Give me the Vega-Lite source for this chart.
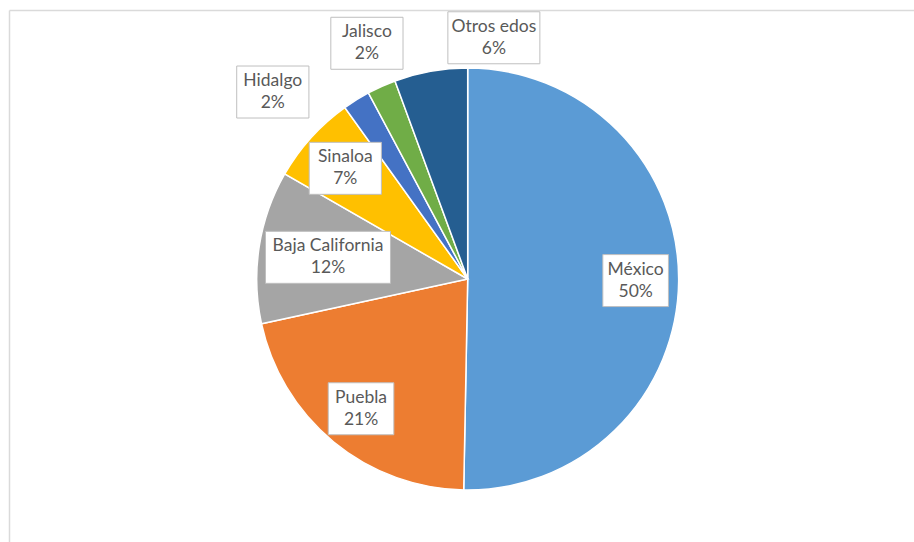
{
  "$schema": "https://vega.github.io/schema/vega-lite/v6.json",
  "width": 905,
  "height": 532,
  "autosize": {"type": "none"},
  "padding": {"left": 9, "top": 10, "right": 0, "bottom": 0},
  "background": "white",
  "config": {
    "view": {"stroke": null},
    "axis": {"labels": false, "ticks": false, "grid": false, "title": null, "domainColor": "#dadada", "domainWidth": 1.5}
  },
  "data": {
    "values": [
      {"estado": "México", "value": 50.3},
      {"estado": "Puebla", "value": 21.3},
      {"estado": "Baja California", "value": 11.7},
      {"estado": "Sinaloa", "value": 6.8},
      {"estado": "Hidalgo", "value": 2.1},
      {"estado": "Jalisco", "value": 2.2},
      {"estado": "Otros edos", "value": 5.6}
    ]
  },
  "transform": [
    {"window": [{"op": "row_number", "as": "idx"}]},
    {"window": [{"op": "sum", "field": "value", "as": "cum"}], "sort": [{"field": "idx"}], "frame": [null, 0]},
    {"joinaggregate": [{"op": "sum", "field": "value", "as": "total"}]},
    {"calculate": "datum.value < 6.5 ? 1 : 0", "as": "fuera"},
    {"window": [{"op": "sum", "field": "fuera", "as": "rangoFuera"}], "sort": [{"field": "idx"}], "frame": [null, 0]},
    {"calculate": "2*PI*(datum.cum - datum.value/2)/datum.total", "as": "mid"},
    {"calculate": "datum.fuera == 1 ? datum.mid + (datum.rangoFuera - 2)*0.267 + 0.017 : datum.mid", "as": "ang"},
    {"calculate": "datum.fuera == 1 ? 1.345 - 0.065*datum.rangoFuera : 0.88 - 0.014*length(datum.estado)", "as": "rad"},
    {"calculate": "datum.rad*sin(datum.ang)", "as": "lx"},
    {"calculate": "datum.rad*cos(datum.ang)", "as": "ly"},
    {"calculate": "(6.6*length(datum.estado)+26)/211", "as": "bw"},
    {"calculate": "datum.lx - datum.bw/2", "as": "bx1"},
    {"calculate": "datum.lx + datum.bw/2", "as": "bx2"},
    {"calculate": "datum.ly - 26/211", "as": "by1"},
    {"calculate": "datum.ly + 26/211", "as": "by2"},
    {"calculate": "datum.estado + '\\n' + format(datum.value/datum.total, '.0%')", "as": "etiqueta"}
  ],
  "layer": [
    {
      "mark": {"type": "arc", "outerRadius": 211, "stroke": "white", "strokeWidth": 1.5},
      "encoding": {
        "theta": {"field": "value", "type": "quantitative", "stack": true},
        "order": {"field": "idx", "type": "quantitative"},
        "color": {
          "field": "estado",
          "type": "nominal",
          "legend": null,
          "scale": {
            "domain": ["México", "Puebla", "Baja California", "Sinaloa", "Hidalgo", "Jalisco", "Otros edos"],
            "range": ["#5B9BD5", "#ED7D31", "#A5A5A5", "#FFC000", "#4472C4", "#70AD47", "#255E91"]
          }
        },
        "x": {"datum": 0, "type": "quantitative", "scale": {"domain": [-2.1739, 2.1152], "nice": false, "zero": false}, "axis": {"orient": "top", "title": null}},
        "y": {"datum": 0, "type": "quantitative", "scale": {"domain": [-1.2464, 1.2749], "nice": false, "zero": false}, "axis": {"orient": "left", "title": null}}
      }
    },
    {
      "mark": {"type": "rect", "fill": "white", "stroke": "#bfbfbf", "strokeWidth": 1},
      "encoding": {
        "x": {"field": "bx1", "type": "quantitative", "axis": {"orient": "top", "title": null}},
        "x2": {"field": "bx2"},
        "y": {"field": "by1", "type": "quantitative", "axis": {"orient": "left", "title": null}},
        "y2": {"field": "by2"}
      }
    },
    {
      "mark": {"type": "text", "font": "Lato", "fontSize": 17.5, "color": "#595959", "lineBreak": "\n", "lineHeight": 22, "align": "center", "baseline": "middle", "dy": -11},
      "encoding": {
        "x": {"field": "lx", "type": "quantitative", "axis": {"orient": "top", "title": null}},
        "y": {"field": "ly", "type": "quantitative", "axis": {"orient": "left", "title": null}},
        "text": {"field": "etiqueta", "type": "nominal"}
      }
    }
  ]
}
